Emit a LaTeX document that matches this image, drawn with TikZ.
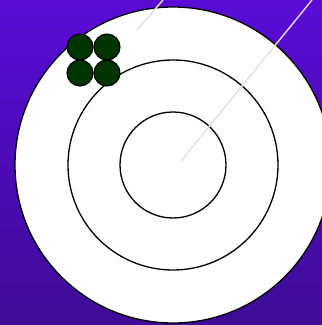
\documentclass[tikz,border=0pt]{standalone}
\definecolor{bgtop}{RGB}{90,12,214}
\definecolor{bgbot}{RGB}{62,12,150}
\definecolor{ballgreen}{RGB}{0,52,0}
\definecolor{raygray}{RGB}{225,225,225}
\begin{document}
\begin{tikzpicture}[x=1pt,y=-1pt,
  ring/.style={circle,draw=black,line width=1.3pt,fill=white,inner sep=0pt},
  ball/.style={circle,draw=black,line width=1.1pt,fill=ballgreen,inner sep=0pt,minimum size=26pt},
  ray/.style={draw=raygray,line width=1.4pt}]
\shade[top color=bgtop, bottom color=bgbot] (0,0) rectangle (322,325);
\path[use as bounding box] (0,0) rectangle (322,325);
\node[ring,minimum size=316pt] (outer) at (173,165) {};
\node[ring,minimum size=210pt] (middle) at (173,165) {};
\node[ring,minimum size=106pt] (inner) at (173,165) {};
\node[ball] (b1) at (80,47) {};
\node[ball] (b2) at (107,47) {};
\node[ball] (b3) at (80,73) {};
\node[ball] (b4) at (107,73) {};
\coordinate (r1a) at (181,161);
\coordinate (r1b) at (312,0);
\coordinate (r2a) at (137,30);
\coordinate (r2b) at (163,0);
\draw[ray] (r1a) -- (r1b);
\draw[ray] (r2a) -- (r2b);
\end{tikzpicture}
\end{document}
